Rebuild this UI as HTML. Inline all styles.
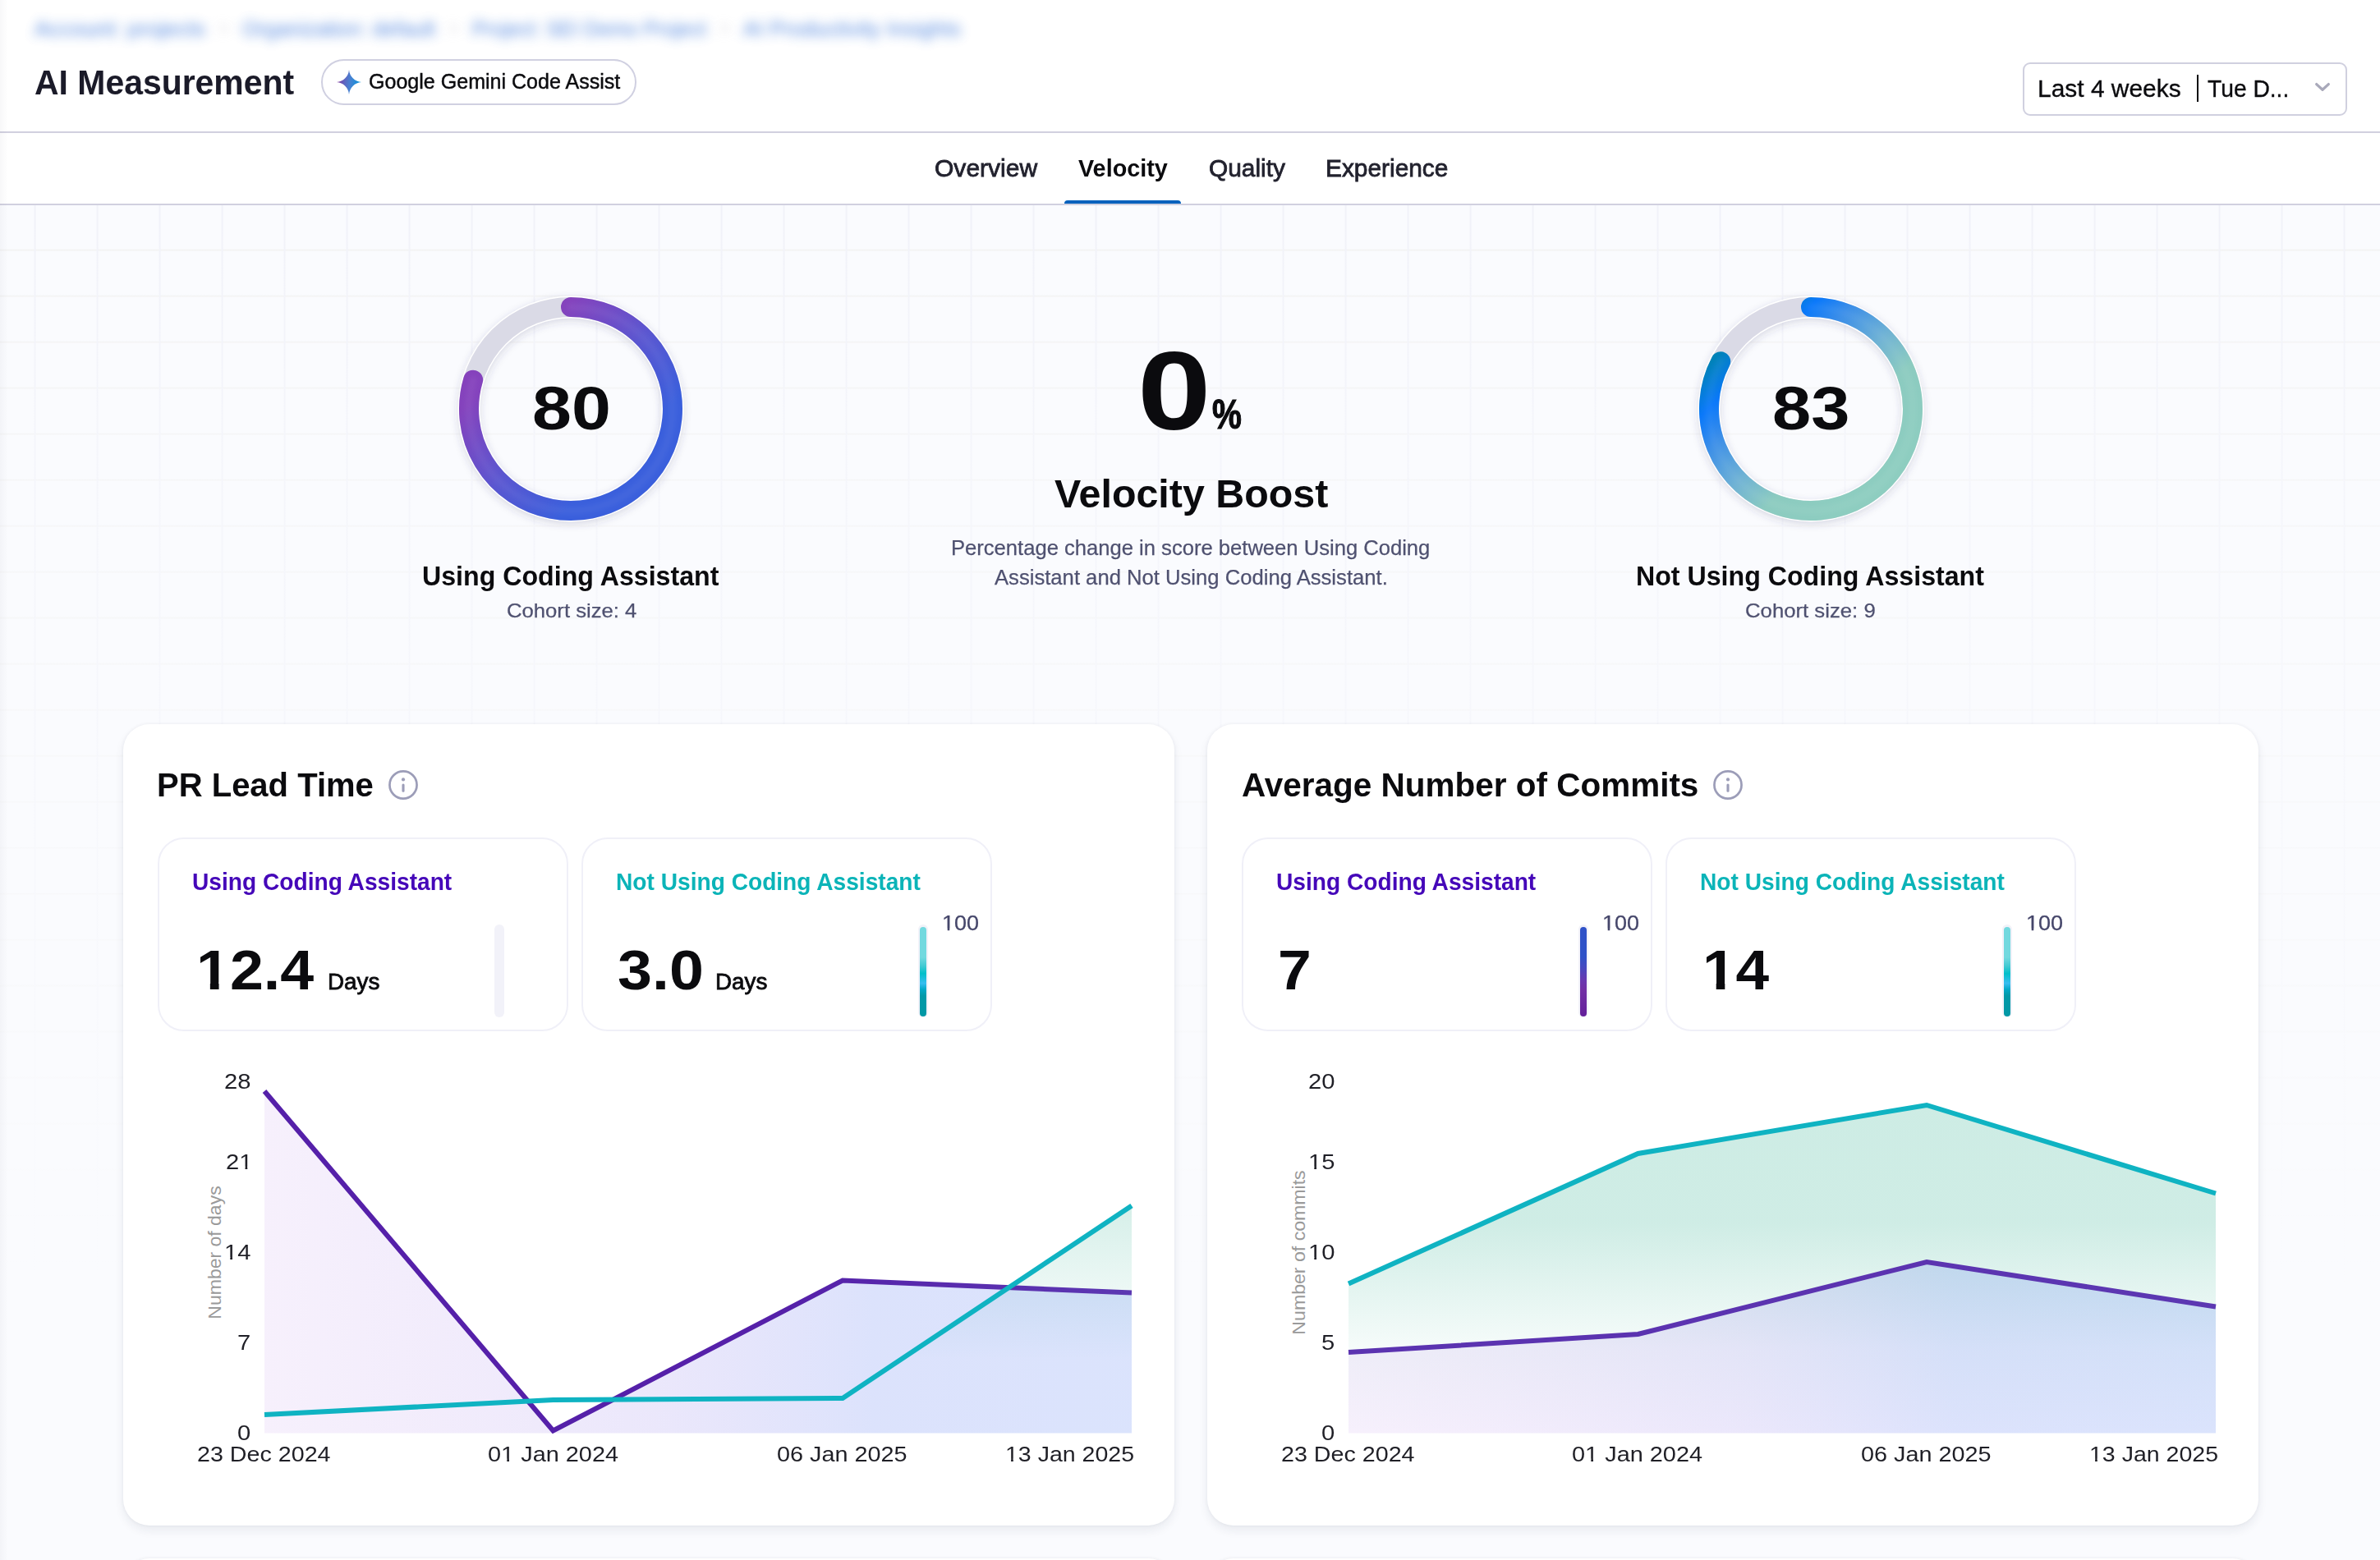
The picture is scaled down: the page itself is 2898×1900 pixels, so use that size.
<!DOCTYPE html>
<html lang="en"><head><meta charset="utf-8"><title>AI Measurement</title>
<style>
*{box-sizing:border-box;margin:0;padding:0}
html,body{width:2898px;height:1900px;overflow:hidden;background:#fafbfe}
body{font-family:"Liberation Sans", sans-serif;position:relative}
#page{position:absolute;left:0;top:0;width:2898px;height:1900px;overflow:hidden;background:#fafbfe}
.abs,.t,.gauge,.chart{position:absolute}
.pg{position:absolute;left:0;width:2898px;height:1900px}
.t{white-space:nowrap;transform-origin:0 50%}
.o1,.o1b{display:inline-block}
.o1{clip-path:polygon(0 0,.56em 0,.56em .812em,.343em .812em,.343em 1.2em,.249em 1.2em,.249em .812em,0 .812em)}
.o1b{clip-path:polygon(0 0,.56em 0,.56em .812em,.374em .812em,.374em 1.2em,.229em 1.2em,.229em .812em,0 .812em)}
header{position:absolute;left:0;top:0;width:2898px;height:162px;background:#fff;border-bottom:2px solid #d1d0df}
nav{position:absolute;left:0;top:162px;width:2898px;height:88px;background:#fff;border-bottom:2px solid #d1d0df}
main{position:absolute;left:0;top:250px;width:2898px;height:1650px;
 background-color:#fafbfe;
 background-image:linear-gradient(180deg,rgba(250,251,254,0) 0,rgba(250,251,254,.4) 300px,rgba(250,251,254,1) 1320px),linear-gradient(90deg,#f1f2f9 0,#f1f2f9 2px,transparent 2px),linear-gradient(180deg,#f3f3f3 0,#f3f3f3 2px,transparent 2px);
 background-size:100% 100%,76px 56px,76px 56px;background-position:0 0,41.6px 0,0 53.6px;background-repeat:no-repeat,repeat,repeat}
.edge{position:absolute;left:0;top:0;width:10px;height:1900px;background:linear-gradient(90deg,rgba(30,30,60,.03),rgba(30,30,60,0))}
.crumbs{position:absolute;left:0;top:0;width:1300px;height:80px;filter:blur(7px);opacity:.78}
.crumbs span{position:absolute;top:21px;height:28px;font-size:26px;line-height:28px;color:#2467d6;white-space:nowrap;transform-origin:0 50%}
.crumbs i{position:absolute;top:22px;font-style:normal;font-size:22px;line-height:26px;color:#c8c8d2}
.pill{position:absolute;left:391.4px;top:72.3px;width:383.2px;height:55.6px;border:2px solid #d0d0e1;border-radius:27.8px;background:#fff}
.dd{position:absolute;left:2463px;top:76.3px;width:395px;height:64.4px;border:2px solid #d0d0df;border-radius:9px;background:#fff}
.ddsep{position:absolute;left:2674.8px;top:91px;width:2.4px;height:33px;background:#0b0b0e}
.tabline{position:absolute;left:1296px;top:244px;width:142px;height:4px;background:#0361bd;border-radius:4px 4px 0 0}
.card{position:absolute;top:882px;width:1280px;height:976px;background:#fff;border-radius:32px;box-shadow:0 6px 12px rgba(30,40,70,.075),0 0 4px rgba(30,40,70,.06)}
.card.next{top:1898px}
.stat{position:absolute;top:1020.1px;width:500px;height:235.9px;border:2px solid #f0f0f8;border-radius:32px;background:#fff}
.track{position:absolute;top:1126px;width:12px;height:112.5px;border-radius:6px;background:#f2f2f9}
.bar{position:absolute;top:1128.8px;width:8.2px;height:109.2px;border-radius:4.1px}
.bar.teal{background:linear-gradient(180deg,#72d9df 0,#72d9df 34%,#40c9d2 44%,#02bfc9 52%,#38bdf0 63%,#02a8c6 70%,#0299a8 77%,#0298a5 100%)}
.bar.purp{background:linear-gradient(180deg,#2f52c8 0,#2f52c8 33%,#4649c0 45%,#6a38b0 60%,#7230a5 70%,#64209a 100%)}
</style></head>
<body>
<div id="page">
<header>
<div class="crumbs"><span style="left:42px;transform:scaleX(1.0430)">Account: projects</span><span style="left:295px;transform:scaleX(0.9795)">Organization: default</span><span style="left:575px;transform:scaleX(0.9437)">Project: SEI Demo Project</span><span style="left:905px;transform:scaleX(1.0076)">AI Productivity Insights</span><i style="left:266px">&gt;</i><i style="left:546px">&gt;</i><i style="left:876px">&gt;</i></div>
<div class="pill"></div>
<svg class="abs" style="left:405px;top:79.9px" width="40" height="40" viewBox="-20 -20 40 40"><defs><linearGradient id="sg" x1="-14.7" y1="-1" x2="14.7" y2="2" gradientUnits="userSpaceOnUse"><stop offset="0" stop-color="#84389c"/><stop offset=".3" stop-color="#5f64c0"/><stop offset=".55" stop-color="#4682d2"/><stop offset="1" stop-color="#0596dc"/></linearGradient></defs>
<path d="M0,-15 A16.4,16.4 0 0 0 15,0 A16.4,16.4 0 0 0 0,15 A16.4,16.4 0 0 0 -15,0 A16.4,16.4 0 0 0 0,-15Z" fill="url(#sg)"/></svg>
<div class="dd"></div><div class="ddsep"></div>
<svg class="abs" style="left:2812px;top:96px" width="32" height="22" viewBox="2812 96 32 22"><polyline points="2820.7,102.6 2828,109.3 2835.3,102.6" fill="none" stroke="#a9a9ba" stroke-width="3.3" stroke-linecap="round" stroke-linejoin="round"/></svg>
<div class="t" style="left:41.55px;top:75.02px;font-size:43.3px;line-height:51.96px;font-weight:700;color:#1b1b29;transform:scaleX(0.9453)">AI Measurement</div>
<div class="t" style="left:448.53px;top:83.54px;font-size:25.84px;line-height:31.01px;color:#0b0b0e;-webkit-text-stroke:0.45px currentColor;transform:scaleX(0.9697)">Google Gemini Code Assist</div>
<div class="t" style="left:2481.01px;top:90.07px;font-size:30.03px;line-height:36.04px;color:#0b0b0e;-webkit-text-stroke:0.35px currentColor;transform:scaleX(0.9972)">Last 4 weeks</div>
<div class="t" style="left:2688.40px;top:90.07px;font-size:30.03px;line-height:36.04px;color:#0b0b0e;-webkit-text-stroke:0.35px currentColor;transform:scaleX(0.9400)">Tue D...</div>
</header>
<nav><div class="pg" style="top:-162px">
<div class="tabline"></div>
<div class="t" style="left:1138.48px;top:187.24px;font-size:29.33px;line-height:35.2px;color:#22222e;-webkit-text-stroke:0.8px currentColor;transform:scaleX(1.0242)">Overview</div>
<div class="t" style="left:1313.00px;top:187.24px;font-size:29.33px;line-height:35.2px;font-weight:700;color:#0b0b0e;transform:scaleX(0.9817)">Velocity</div>
<div class="t" style="left:1471.68px;top:187.24px;font-size:29.33px;line-height:35.2px;color:#22222e;-webkit-text-stroke:0.8px currentColor;transform:scaleX(1.0186)">Quality</div>
<div class="t" style="left:1613.66px;top:187.24px;font-size:29.33px;line-height:35.2px;color:#22222e;-webkit-text-stroke:0.8px currentColor;transform:scaleX(1.0180)">Experience</div>
</div></nav>
<main><div class="pg" style="top:-250px">
<section class="summary">
<svg class="gauge" style="left:535.0px;top:337.5px" width="320" height="320" viewBox="0 0 320 320">
<defs><linearGradient id="g1" gradientUnits="userSpaceOnUse" x1="24.0" y1="24.0" x2="296.0" y2="296.0"><stop offset="0" stop-color="#8a3db8"/><stop offset="0.26" stop-color="#8443bd"/><stop offset="0.5" stop-color="#5a56d0"/><stop offset="0.72" stop-color="#3a5fdc"/><stop offset="1" stop-color="#3a5fdc"/></linearGradient>
<filter id="g1s" x="-20%" y="-20%" width="140%" height="140%"><feGaussianBlur stdDeviation="5"/></filter>
<filter id="g1b" x="-20%" y="-20%" width="140%" height="140%"><feGaussianBlur stdDeviation="2.5"/></filter></defs>
<circle cx="160.0" cy="163.0" r="124" fill="none" stroke="#3a3a6a" stroke-opacity=".16" stroke-width="28" filter="url(#g1s)"/>
<circle cx="160.0" cy="160.0" r="124" fill="none" stroke="#ffffff" stroke-width="27"/>
<circle cx="160.0" cy="160.0" r="124" fill="none" stroke="#dadae6" stroke-width="24"/>
<path d="M160.00,36.00 A124,124 0 1 1 41.14,124.66" fill="none" stroke="url(#g1)" stroke-width="24" stroke-linecap="round"/>
<path d="M160.00,36.00 A124,124 0 1 1 41.14,124.66" fill="none" stroke="#ffffff" stroke-opacity=".045" stroke-width="9" stroke-linecap="round" filter="url(#g1b)"/>
</svg>
<svg class="gauge" style="left:2045.0px;top:337.5px" width="320" height="320" viewBox="0 0 320 320">
<defs><linearGradient id="g2" gradientUnits="userSpaceOnUse" x1="24.0" y1="24.0" x2="296.0" y2="296.0"><stop offset="0" stop-color="#0088a0"/><stop offset="0.17" stop-color="#0082b8"/><stop offset="0.27" stop-color="#0a78fa"/><stop offset="0.36" stop-color="#3b8ee8"/><stop offset="0.5" stop-color="#6fb2d4"/><stop offset="0.62" stop-color="#8ccbc0"/><stop offset="1" stop-color="#8fcfc0"/></linearGradient>
<filter id="g2s" x="-20%" y="-20%" width="140%" height="140%"><feGaussianBlur stdDeviation="5"/></filter>
<filter id="g2b" x="-20%" y="-20%" width="140%" height="140%"><feGaussianBlur stdDeviation="2.5"/></filter></defs>
<circle cx="160.0" cy="163.0" r="124" fill="none" stroke="#3a3a6a" stroke-opacity=".16" stroke-width="28" filter="url(#g2s)"/>
<circle cx="160.0" cy="160.0" r="124" fill="none" stroke="#ffffff" stroke-width="27"/>
<circle cx="160.0" cy="160.0" r="124" fill="none" stroke="#dadae6" stroke-width="24"/>
<path d="M160.00,36.00 A124,124 0 1 1 50.23,102.32" fill="none" stroke="url(#g2)" stroke-width="24" stroke-linecap="round"/>
<path d="M160.00,36.00 A124,124 0 1 1 50.23,102.32" fill="none" stroke="#ffffff" stroke-opacity=".045" stroke-width="9" stroke-linecap="round" filter="url(#g2b)"/>
</svg>
<div class="t" style="left:647.67px;top:454.34px;font-size:74.02px;line-height:88.82px;font-weight:700;color:#0b0b0e;transform:scaleX(1.1643)">80</div>
<div class="t" style="left:514.18px;top:682.28px;font-size:33.52px;line-height:40.22px;font-weight:700;color:#0b0b0e;transform:scaleX(0.9592)">Using Coding Assistant</div>
<div class="t" style="left:616.55px;top:728.87px;font-size:24.44px;line-height:29.33px;color:#4f5170;-webkit-text-stroke:0.25px currentColor;transform:scaleX(1.0504)">Cohort size: 4</div>
<div class="t" style="left:1385.09px;top:394.52px;font-size:136.17px;line-height:163.4px;font-weight:700;color:#0b0b0e;transform:scaleX(1.1818)">0</div>
<div class="t" style="left:1475.70px;top:475.41px;font-size:50.28px;line-height:60.34px;font-weight:700;color:#0b0b0e;-webkit-text-stroke:1.2px currentColor;transform:scaleX(0.8023)">%</div>
<div class="t" style="left:1283.50px;top:571.73px;font-size:48.88px;line-height:58.66px;font-weight:700;color:#0b0b0e;transform:scaleX(0.9896)">Velocity Boost</div>
<div class="t" style="left:1158.02px;top:651.54px;font-size:25.84px;line-height:31.01px;color:#4f5170;-webkit-text-stroke:0.25px currentColor;transform:scaleX(0.9909)">Percentage change in score between Using Coding</div>
<div class="t" style="left:1211.00px;top:687.54px;font-size:25.84px;line-height:31.01px;color:#4f5170;-webkit-text-stroke:0.25px currentColor;transform:scaleX(0.9925)">Assistant and Not Using Coding Assistant.</div>
<div class="t" style="left:2157.71px;top:454.34px;font-size:74.02px;line-height:88.82px;font-weight:700;color:#0b0b0e;transform:scaleX(1.1452)">83</div>
<div class="t" style="left:1992.48px;top:682.28px;font-size:33.52px;line-height:40.22px;font-weight:700;color:#0b0b0e;transform:scaleX(0.9594)">Not Using Coding Assistant</div>
<div class="t" style="left:2124.95px;top:728.87px;font-size:24.44px;line-height:29.33px;color:#4f5170;-webkit-text-stroke:0.25px currentColor;transform:scaleX(1.0525)">Cohort size: 9</div>
</section>
<article>
<section class="card" style="left:150px"></section>
<div class="stat" style="left:192.1px"></div><div class="stat" style="left:707.8px"></div>
<div class="track" style="left:602px"></div><div class="track" style="left:1118px"></div><div class="bar teal" style="left:1120px"></div>
<svg class="abs" style="left:470.8px;top:935.8px" width="40" height="40" viewBox="-20 -20 40 40"><circle r="16.55" fill="none" stroke="#9c9db8" stroke-width="2.7"/><rect x="-1.55" y="-1.4" width="3.1" height="10.2" rx="1.5" fill="#9c9db8"/><circle cy="-6.6" r="2.1" fill="#9c9db8"/></svg>
<svg class="chart" style="left:150px;top:1290px" width="1280" height="480" viewBox="150 1290 1280 480">
<defs>
<linearGradient id="apg" gradientUnits="userSpaceOnUse" x1="322" y1="0" x2="1378" y2="0"><stop offset="0" stop-color="#a05ae0" stop-opacity=".09"/><stop offset=".45" stop-color="#7a62e6" stop-opacity=".15"/><stop offset=".7" stop-color="#5070f0" stop-opacity=".2"/><stop offset="1" stop-color="#4a74f2" stop-opacity=".2"/></linearGradient>
<linearGradient id="atg" gradientUnits="userSpaceOnUse" x1="0" y1="1468.5" x2="0" y2="1655"><stop offset="0" stop-color="#30b090" stop-opacity="0.2"/><stop offset="1" stop-color="#30b090" stop-opacity="0"/></linearGradient>
<linearGradient id="apl" gradientUnits="userSpaceOnUse" x1="322" y1="0" x2="1378" y2="0"><stop offset="0" stop-color="#5520a9"/><stop offset=".6" stop-color="#5520a9"/><stop offset="1" stop-color="#5c38b2"/></linearGradient>
</defs>
<polygon points="322,1723 673.5,1705 1026,1703 1378,1468.5 1378,1745.5 322,1745.5" fill="url(#atg)"/>
<polygon points="322,1329 673.5,1742.5 1026,1559.5 1378,1574.5 1378,1745.5 322,1745.5" fill="url(#apg)"/>
<polyline points="322,1329 673.5,1742.5 1026,1559.5 1378,1574.5" fill="none" stroke="url(#apl)" stroke-width="6" stroke-linejoin="miter"/>
<polyline points="322,1723 673.5,1705 1026,1703 1378,1468.5" fill="none" stroke="#0fb3c2" stroke-width="6" stroke-linejoin="miter"/>
</svg>
<div class="t" style="left:191.06px;top:932.00px;font-size:41.2px;line-height:49.44px;font-weight:700;color:#0b0b0e;transform:scaleX(0.9713)">PR Lead Time</div>
<div class="t" style="left:234.04px;top:1056.14px;font-size:29.33px;line-height:35.2px;font-weight:700;color:#4507b9;transform:scaleX(0.9591)">Using Coding Assistant</div>
<div class="t" style="left:750.34px;top:1056.14px;font-size:29.33px;line-height:35.2px;font-weight:700;color:#0bb4b8;transform:scaleX(0.9591)">Not Using Coding Assistant</div>
<div class="t" style="left:238.75px;top:1140.44px;font-size:69.27px;line-height:83.12px;font-weight:700;color:#0b0b0e;transform:scaleX(1.0627)"><span class="o1b">1</span>2.4</div>
<div class="t" style="left:752.41px;top:1140.44px;font-size:69.27px;line-height:83.12px;font-weight:700;color:#0b0b0e;transform:scaleX(1.0889)">3.0</div>
<div class="t" style="left:398.51px;top:1179.36px;font-size:27.93px;line-height:33.52px;color:#0b0b0e;-webkit-text-stroke:0.8px currentColor;transform:scaleX(0.9975)">Days</div>
<div class="t" style="left:871.01px;top:1179.36px;font-size:27.93px;line-height:33.52px;color:#0b0b0e;-webkit-text-stroke:0.8px currentColor;transform:scaleX(0.9975)">Days</div>
<div class="t" style="left:1147.42px;top:1110.47px;font-size:24.86px;line-height:29.83px;color:#45466a;-webkit-text-stroke:0.25px currentColor;transform:scaleX(1.0845)"><span class="o1">1</span>00</div>
<div class="t" style="left:272.95px;top:1302.04px;font-size:25.84px;line-height:31.01px;color:#1f1f26;transform:scaleX(1.1300)">28</div>
<div class="t" style="left:275.14px;top:1400.04px;font-size:25.84px;line-height:31.01px;color:#1f1f26;transform:scaleX(1.1300)">2<span class="o1">1</span></div>
<div class="t" style="left:272.95px;top:1510.04px;font-size:25.84px;line-height:31.01px;color:#1f1f26;transform:scaleX(1.1300)"><span class="o1">1</span>4</div>
<div class="t" style="left:289.18px;top:1620.04px;font-size:25.84px;line-height:31.01px;color:#1f1f26;transform:scaleX(1.1300)">7</div>
<div class="t" style="left:289.18px;top:1730.04px;font-size:25.84px;line-height:31.01px;color:#1f1f26;transform:scaleX(1.1300)">0</div>
<div class="t" style="left:240.39px;top:1755.54px;font-size:25.84px;line-height:31.01px;color:#1f1f26;transform:scaleX(1.1095)">23 Dec 2024</div>
<div class="t" style="left:593.88px;top:1755.54px;font-size:25.84px;line-height:31.01px;color:#1f1f26;transform:scaleX(1.1185)">0<span class="o1">1</span> Jan 2024</div>
<div class="t" style="left:945.89px;top:1755.54px;font-size:25.84px;line-height:31.01px;color:#1f1f26;transform:scaleX(1.1149)">06 Jan 2025</div>
<div class="t" style="left:1223.90px;top:1755.54px;font-size:25.84px;line-height:31.01px;color:#1f1f26;transform:scaleX(1.1043)"><span class="o1">1</span>3 Jan 2025</div>
<div class="t" style="left:182.14px;top:1512.00px;width:158.82px;font-size:22.5px;line-height:27.0px;color:#9a9a9a;transform:rotate(-90deg) scaleX(1.0218);transform-origin:50% 50%;text-align:center">Number of days</div>
</article>
<article>
<section class="card" style="left:1470px"></section>
<div class="stat" style="left:1512.1px"></div><div class="stat" style="left:2027.8px"></div>
<div class="track" style="left:1922px"></div><div class="bar purp" style="left:1924px"></div><div class="track" style="left:2438px"></div><div class="bar teal" style="left:2440px"></div>
<svg class="abs" style="left:2084px;top:935.8px" width="40" height="40" viewBox="-20 -20 40 40"><circle r="16.55" fill="none" stroke="#9c9db8" stroke-width="2.7"/><rect x="-1.55" y="-1.4" width="3.1" height="10.2" rx="1.5" fill="#9c9db8"/><circle cy="-6.6" r="2.1" fill="#9c9db8"/></svg>
<svg class="chart" style="left:1470px;top:1290px" width="1280" height="480" viewBox="1470 1290 1280 480">
<defs>
<linearGradient id="bpg" gradientUnits="userSpaceOnUse" x1="1642" y1="0" x2="2698" y2="0"><stop offset="0" stop-color="#a05ae0" stop-opacity=".09"/><stop offset=".45" stop-color="#7a62e6" stop-opacity=".15"/><stop offset=".7" stop-color="#5070f0" stop-opacity=".2"/><stop offset="1" stop-color="#4a74f2" stop-opacity=".2"/></linearGradient>
<linearGradient id="btg" gradientUnits="userSpaceOnUse" x1="0" y1="1346" x2="0" y2="1745.5"><stop offset="0" stop-color="#30b090" stop-opacity="0.24"/><stop offset=".36" stop-color="#30b090" stop-opacity=".232"/><stop offset=".74" stop-color="#30b090" stop-opacity=".045"/><stop offset="1" stop-color="#30b090" stop-opacity="0"/></linearGradient>
<linearGradient id="bpl" gradientUnits="userSpaceOnUse" x1="1642" y1="0" x2="2698" y2="0"><stop offset="0" stop-color="#5b33b0"/><stop offset=".6" stop-color="#5b33b0"/><stop offset="1" stop-color="#5c38b2"/></linearGradient>
</defs>
<polygon points="1642,1563.5 1994.5,1405 2346,1346 2698,1453.5 2698,1745.5 1642,1745.5" fill="url(#btg)"/>
<polygon points="1642,1647 1994.5,1625 2346,1537 2698,1591.5 2698,1745.5 1642,1745.5" fill="url(#bpg)"/>
<polyline points="1642,1647 1994.5,1625 2346,1537 2698,1591.5" fill="none" stroke="url(#bpl)" stroke-width="6" stroke-linejoin="miter"/>
<polyline points="1642,1563.5 1994.5,1405 2346,1346 2698,1453.5" fill="none" stroke="#0fb3c2" stroke-width="6" stroke-linejoin="miter"/>
</svg>
<div class="t" style="left:1512.02px;top:932.00px;font-size:41.2px;line-height:49.44px;font-weight:700;color:#0b0b0e;transform:scaleX(0.9829)">Average Number of Commits</div>
<div class="t" style="left:1554.04px;top:1056.14px;font-size:29.33px;line-height:35.2px;font-weight:700;color:#4507b9;transform:scaleX(0.9591)">Using Coding Assistant</div>
<div class="t" style="left:2070.34px;top:1056.14px;font-size:29.33px;line-height:35.2px;font-weight:700;color:#0bb4b8;transform:scaleX(0.9591)">Not Using Coding Assistant</div>
<div class="t" style="left:1555.88px;top:1140.44px;font-size:69.27px;line-height:83.12px;font-weight:700;color:#0b0b0e;transform:scaleX(1.0588)">7</div>
<div class="t" style="left:2072.78px;top:1140.44px;font-size:69.27px;line-height:83.12px;font-weight:700;color:#0b0b0e;transform:scaleX(1.0542)"><span class="o1b">1</span>4</div>
<div class="t" style="left:1951.42px;top:1110.47px;font-size:24.86px;line-height:29.83px;color:#45466a;-webkit-text-stroke:0.25px currentColor;transform:scaleX(1.0845)"><span class="o1">1</span>00</div>
<div class="t" style="left:2467.42px;top:1110.47px;font-size:24.86px;line-height:29.83px;color:#45466a;-webkit-text-stroke:0.25px currentColor;transform:scaleX(1.0845)"><span class="o1">1</span>00</div>
<div class="t" style="left:1592.95px;top:1302.04px;font-size:25.84px;line-height:31.01px;color:#1f1f26;transform:scaleX(1.1300)">20</div>
<div class="t" style="left:1592.95px;top:1400.04px;font-size:25.84px;line-height:31.01px;color:#1f1f26;transform:scaleX(1.1300)"><span class="o1">1</span>5</div>
<div class="t" style="left:1592.95px;top:1510.04px;font-size:25.84px;line-height:31.01px;color:#1f1f26;transform:scaleX(1.1300)"><span class="o1">1</span>0</div>
<div class="t" style="left:1609.18px;top:1620.04px;font-size:25.84px;line-height:31.01px;color:#1f1f26;transform:scaleX(1.1300)">5</div>
<div class="t" style="left:1609.18px;top:1730.04px;font-size:25.84px;line-height:31.01px;color:#1f1f26;transform:scaleX(1.1300)">0</div>
<div class="t" style="left:1560.39px;top:1755.54px;font-size:25.84px;line-height:31.01px;color:#1f1f26;transform:scaleX(1.1095)">23 Dec 2024</div>
<div class="t" style="left:1913.88px;top:1755.54px;font-size:25.84px;line-height:31.01px;color:#1f1f26;transform:scaleX(1.1185)">0<span class="o1">1</span> Jan 2024</div>
<div class="t" style="left:2265.89px;top:1755.54px;font-size:25.84px;line-height:31.01px;color:#1f1f26;transform:scaleX(1.1149)">06 Jan 2025</div>
<div class="t" style="left:2543.90px;top:1755.54px;font-size:25.84px;line-height:31.01px;color:#1f1f26;transform:scaleX(1.1043)"><span class="o1">1</span>3 Jan 2025</div>
<div class="t" style="left:1484.03px;top:1512.00px;width:195.04px;font-size:22.5px;line-height:27.0px;color:#9a9a9a;transform:rotate(-90deg) scaleX(1.0269);transform-origin:50% 50%;text-align:center">Number of commits</div>
</article>
<section class="card next" style="left:150px"></section><section class="card next" style="left:1470px"></section>
</div></main>
<div class="edge"></div>
</div>
</body></html>
